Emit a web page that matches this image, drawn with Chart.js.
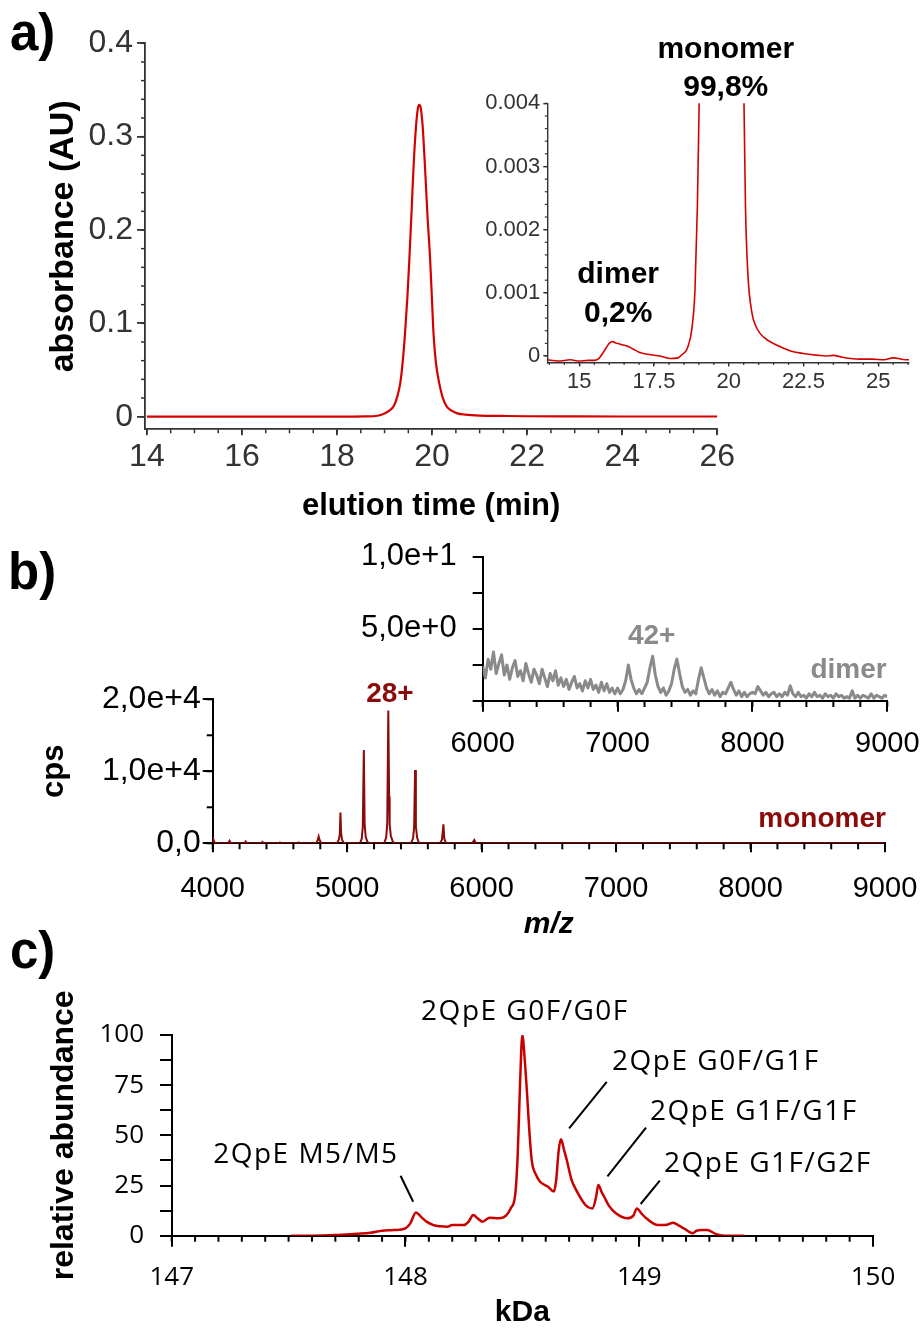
<!DOCTYPE html>
<html>
<head>
<meta charset="utf-8">
<script src="https://cdn.jsdelivr.net/npm/chart.js@4.4.1/dist/chart.umd.min.js"></script>
<style>
  body { margin: 0; background: #fff; width: 922px; height: 1329px; position: relative; overflow: hidden; font-family: "Liberation Sans", Arial, sans-serif; }
  canvas { position: absolute; }
  .panel { position: absolute; font-weight: bold; font-size: 51px; line-height: 1; color: #000; }
</style>
</head>
<body>
<div class="panel" style="left:10px;top:7px">a)</div>
<div class="panel" style="left:8px;top:546px">b)</div>
<div class="panel" style="left:10px;top:925px">c)</div>

<canvas id="chartA" width="760" height="510" style="left:0;top:20px"></canvas>
<canvas id="chartAInset" width="450" height="380" style="left:470px;top:20px"></canvas>
<canvas id="chartB" width="922" height="310" style="left:0;top:640px"></canvas>
<canvas id="chartBInset" width="572" height="230" style="left:350px;top:540px"></canvas>
<canvas id="chartC" width="920" height="380" style="left:0;top:960px"></canvas>

<script>
// a) SEC chromatogram, full view
const aTime = [14, 15, 16, 17, 18, 18.6, 18.85, 19.0, 19.1, 19.2, 19.27, 19.33, 19.38, 19.43, 19.48, 19.52, 19.57, 19.61, 19.66, 19.7, 19.73, 19.76, 19.8, 19.85, 19.9, 19.96, 20.0, 20.03, 20.08, 20.15, 20.22, 20.31, 20.42, 20.53, 20.7, 21.0, 21.5, 22, 23, 24, 25, 26];
const aAbs = [0, 0, 0, 0, 0, 0.0003, 0.001, 0.0035, 0.0065, 0.012, 0.022, 0.036, 0.058, 0.089, 0.128, 0.167, 0.222, 0.268, 0.310, 0.330, 0.334, 0.331, 0.312, 0.268, 0.218, 0.167, 0.122, 0.089, 0.058, 0.036, 0.021, 0.0107, 0.0062, 0.0036, 0.0022, 0.0012, 0.0008, 0.0005, 0.0003, 0.0002, 0.0002, 0.0002];
const aXTicks = [14, 16, 18, 20, 22, 24, 26];
const aXLabels = ['14', '16', '18', '20', '22', '24', '26'];
const aYTicks = [0, 0.1, 0.2, 0.3, 0.4];
const aYLabels = ['0', '0.1', '0.2', '0.3', '0.4'];

// a) inset, zoomed baseline
const aInsetTime = [13.93, 14.3, 14.7, 15.0, 15.3, 15.5, 15.65, 15.78, 15.9, 16.0, 16.12, 16.2, 16.35, 16.5, 16.6, 16.8, 17.0, 17.15, 17.4, 17.7, 17.85, 18.03, 18.3, 18.48, 18.58, 18.65, 18.76, 18.87, 18.95, 19.01, 19.1, 19.3, 19.73, 20.2, 20.45, 20.51, 20.56, 20.64, 20.78, 20.9, 21.06, 21.3, 21.62, 21.9, 22.13, 22.5, 23.0, 23.24, 23.5, 23.8, 24.36, 24.8, 25.2, 25.5, 25.92, 26.03];
const aInsetAbs = [-0.00006, -0.00008, -0.00006, -0.00008, -0.00007, -0.00007, -0.00004, 0.00004, 0.00013, 0.0002, 0.000227, 0.00021, 0.00019, 0.00017, 0.00016, 0.00011, 0.00006, 0.00004, 0.00002, 0.0, -0.00002, -0.00004, -0.00003, 0.00004, 0.00009, 0.00017, 0.00041, 0.00104, 0.00236, 0.004, 0.0065, 0.036, 0.334, 0.021, 0.0055, 0.004, 0.00236, 0.0013, 0.00067, 0.00048, 0.00035, 0.00025, 0.00017, 0.00011, 0.00007, 0.00004, 0.00001, 0.0, 0.00001, -0.00002, -0.00005, -0.00005, -0.00006, -0.00003, -0.00006, -0.00006];
const aInsetXTicks = [15, 17.5, 20, 22.5, 25];
const aInsetXLabels = ['15', '17.5', '20', '22.5', '25'];
const aInsetYTicks = [0, 0.001, 0.002, 0.003, 0.004];
const aInsetYLabels = ['0', '0.001', '0.002', '0.003', '0.004'];

// b) native MS, monomer and dimer
const bMonoMz = [4000, 4005, 4015, 4030, 4115, 4125, 4135, 4235, 4245, 4255, 4360, 4370, 4380, 4490, 4500, 4510, 4630, 4640, 4650, 4770, 4782, 4788, 4795, 4808, 4925, 4938, 4945, 4950, 4955, 4962, 4975, 5095, 5108, 5116, 5124, 5130, 5138, 5150, 5165, 5275, 5290, 5298, 5306, 5312, 5316, 5325, 5340, 5355, 5475, 5490, 5498, 5505, 5511, 5520, 5535, 5690, 5705, 5716, 5722, 5735, 5930, 5945, 5958, 9000];
const bMonoCps = [0, 550, 100, 0, 0, 350, 0, 0, 250, 0, 0, 180, 0, 0, 120, 0, 0, 120, 0, 0, 500, 950, 450, 0, 0, 500, 1200, 4260, 1400, 500, 0, 0, 600, 2200, 12960, 2600, 900, 200, 0, 0, 800, 2700, 18430, 6500, 2600, 1000, 200, 0, 0, 700, 2200, 10190, 2400, 800, 0, 0, 500, 2640, 700, 0, 0, 460, 0, 0];
const bDimerMz = [
    6000, 6020, 6040, 6060, 6080, 6100, 6120, 6140, 6160, 6180,
    6200, 6220, 6240, 6260, 6280, 6300, 6320, 6340, 6360, 6380,
    6400, 6420, 6440, 6460, 6480, 6500, 6520, 6540, 6560, 6580,
    6600, 6620, 6640, 6660, 6680, 6700, 6720, 6740, 6760, 6780,
    6800, 6820, 6840, 6860, 6880, 6900, 6920, 6940, 6960, 6980,
    7000, 7020, 7040, 7060, 7080, 7100, 7120, 7140, 7160, 7180,
    7200, 7220, 7240, 7260, 7280, 7300, 7320, 7340, 7360, 7380,
    7400, 7420, 7440, 7460, 7480, 7500, 7520, 7540, 7560, 7580,
    7600, 7620, 7640, 7660, 7680, 7700, 7720, 7740, 7760, 7780,
    7800, 7820, 7840, 7860, 7880, 7900, 7920, 7940, 7960, 7980,
    8000, 8020, 8040, 8060, 8080, 8100, 8120, 8140, 8160, 8180,
    8200, 8220, 8240, 8260, 8280, 8300, 8320, 8340, 8360, 8380,
    8400, 8420, 8440, 8460, 8480, 8500, 8520, 8540, 8560, 8580,
    8600, 8620, 8640, 8660, 8680, 8700, 8720, 8740, 8760, 8780,
    8800, 8820, 8840, 8860, 8880, 8900, 8920, 8940, 8960, 8980,
    9000];
const bDimerCps = [
    2.4, 1.6, 2.9, 2.2, 3.4, 1.9, 2.6, 3.2, 1.8, 2.5,
    1.5, 2.3, 2.8, 1.7, 2.1, 1.4, 2.6, 1.9, 1.3, 2.2,
    1.8, 1.2, 2.2, 1.6, 1.0, 1.9, 1.4, 2.1, 1.1, 1.6,
    1.0, 1.5, 0.8, 1.3, 1.7, 0.9, 1.2, 0.7, 1.4, 0.9,
    1.5, 0.8, 1.1, 0.6, 1.3, 0.7, 1.2, 0.6, 0.9, 0.5,
    0.9, 0.5, 0.8, 1.4, 2.5, 1.5, 0.9, 0.5, 0.8, 0.5,
    0.9, 1.3, 2.3, 3.1, 1.8, 1.0, 0.6, 0.9, 0.4, 0.7,
    1.2, 2.2, 2.9, 1.9, 1.0, 0.6, 0.8, 0.4, 0.7, 0.5,
    1.5, 2.3, 1.6, 0.9, 0.5, 0.8, 0.4, 0.7, 0.3, 0.6,
    0.5, 0.9, 1.3, 0.8, 0.4, 0.7, 0.3, 0.6, 0.3, 0.5,
    0.6, 0.5, 1.0, 0.7, 0.4, 0.6, 0.3, 0.5, 0.6, 0.3,
    0.5, 0.3, 0.6, 0.4, 1.05, 0.5, 0.3, 0.6, 0.3, 0.4,
    0.2, 0.5, 0.3, 0.6, 0.3, 0.4, 0.2, 0.5, 0.3, 0.4,
    0.2, 0.5, 0.3, 0.4, 0.2, 0.3, 0.2, 0.7, 0.2, 0.4,
    0.2, 0.4, 0.3, 0.2, 0.5, 0.2, 0.4, 0.3, 0.2, 0.4,
    0.3];
const bXTicks = [4000, 5000, 6000, 7000, 8000, 9000];
const bXLabels = ['4000', '5000', '6000', '7000', '8000', '9000'];
const bYTicks = [0, 10000, 20000];
const bYLabels = ['0,0', '1,0e+4', '2,0e+4'];
const bInsetXTicks = [6000, 7000, 8000, 9000];
const bInsetXLabels = ['6000', '7000', '8000', '9000'];
const bInsetYTicks = [0, 2.5, 5, 7.5, 10];
const bInsetYLabels = ['', '', '5,0e+0', '', '1,0e+1'];

// c) deconvoluted mass spectrum
const cMass = [147.51, 147.6, 147.7, 147.79, 147.85, 147.9, 147.95, 148.0, 148.02, 148.045, 148.07, 148.09, 148.12, 148.15, 148.18, 148.2, 148.25, 148.27, 148.29, 148.31, 148.33, 148.36, 148.4, 148.43, 148.45, 148.47, 148.48, 148.49, 148.5, 148.51, 148.52, 148.53, 148.54, 148.56, 148.575, 148.61, 148.635, 148.645, 148.655, 148.665, 148.68, 148.69, 148.71, 148.73, 148.77, 148.8, 148.815, 148.825, 148.84, 148.85, 148.87, 148.9, 148.95, 148.975, 148.99, 149.01, 149.03, 149.08, 149.12, 149.145, 149.17, 149.19, 149.23, 149.245, 149.27, 149.29, 149.33, 149.37, 149.45];
const cAbund = [0, 0, 0.3, 1, 1.5, 2.5, 2.8, 3.7, 6, 11.6, 9, 7, 5.3, 4.7, 4.5, 5.3, 5.3, 7, 10.3, 8.5, 7, 9, 8.7, 10, 13.6, 21, 40, 75, 100, 88, 71, 52, 37.7, 30, 27, 24.4, 22, 28, 42, 48, 42, 37.7, 28, 22.8, 15.3, 13.6, 19, 25.3, 21.5, 19.4, 15, 11.2, 8.7, 10, 13.6, 11, 8.7, 5.3, 5.5, 6.5, 5, 3.7, 1.2, 2.5, 2.8, 2.8, 0.8, 0, 0];
const cXTicks = [147, 148, 149, 150];
const cXLabels = ['147', '148', '149', '150'];
const cYTicks = [0, 12.5, 25, 37.5, 50, 62.5, 75, 87.5, 100];
const cYLabels = ['0', '', '25', '', '50', '', '75', '', '100'];

const ARIAL = '"Liberation Sans", Arial, sans-serif';
const OPEN = '"Open Sans", "Noto Sans", sans-serif';

function points(xs, ys) {
    return xs.map((x, i) => ({ x: x, y: ys[i] }));
}

// axis builder: fixed box size so the plot area lands where the figure has it
function axis(o) {
    const horizontal = o.position === 'bottom';
    return {
        type: 'linear',
        position: o.position,
        min: o.min,
        max: o.max,
        afterBuildTicks: function(s) { s.ticks = o.ticks.map(v => ({ value: v })); },
        afterFit: function(s) {
            if (horizontal) s.height = o.size; else s.width = o.size;
            s.paddingTop = 0; s.paddingBottom = 0; s.paddingLeft = 0; s.paddingRight = 0;
        },
        border: { display: true, color: o.color, width: o.lineWidth },
        grid: { drawOnChartArea: false, drawTicks: true, tickLength: o.tickLength, color: o.color, lineWidth: o.lineWidth },
        ticks: {
            autoSkip: false, maxRotation: 0, padding: o.pad, color: o.labelColor,
            font: o.font,
            callback: function(v, i) { return o.labels[i]; }
        },
        title: o.title ? {
            display: true, text: o.title, color: '#000', font: o.titleFont,
            padding: o.titlePad
        } : { display: false }
    };
}

// short ticks between the labelled ones
function minorTicks(specs, color, width) {
    return {
        id: 'minorTicks',
        afterDraw(chart) {
            const ctx = chart.ctx;
            ctx.save();
            ctx.strokeStyle = color;
            ctx.lineWidth = width;
            specs.forEach(s => {
                const scale = chart.scales[s.axis];
                const n = Math.round((s.to - s.from) / s.step);
                for (let i = 0; i <= n; i++) {
                    const p = scale.getPixelForValue(s.from + i * s.step);
                    ctx.beginPath();
                    if (s.axis === 'x') {
                        ctx.moveTo(p, scale.top);
                        ctx.lineTo(p, scale.top + s.len);
                    } else {
                        ctx.moveTo(scale.right, p);
                        ctx.lineTo(scale.right - s.len, p);
                    }
                    ctx.stroke();
                }
            });
            ctx.restore();
        }
    };
}

// text labels and leader lines placed in data units
function notes(items, lines) {
    return {
        id: 'notes',
        afterDraw(chart) {
            const ctx = chart.ctx;
            const xs = chart.scales.x, ys = chart.scales.y;
            ctx.save();
            (lines || []).forEach(l => {
                ctx.strokeStyle = l.color;
                ctx.lineWidth = l.width;
                ctx.beginPath();
                ctx.moveTo(xs.getPixelForValue(l.x1), ys.getPixelForValue(l.y1));
                ctx.lineTo(xs.getPixelForValue(l.x2), ys.getPixelForValue(l.y2));
                ctx.stroke();
            });
            items.forEach(n => {
                ctx.font = n.font;
                ctx.fillStyle = n.color;
                ctx.textAlign = n.align || 'center';
                ctx.textBaseline = 'alphabetic';
                ctx.letterSpacing = n.spacing || '0px';
                ctx.fillText(n.text, xs.getPixelForValue(n.x), ys.getPixelForValue(n.y));
            });
            ctx.restore();
        }
    };
}

function lineChart(id, datasets, scales, padding, plugins) {
    return new Chart(document.getElementById(id), {
        type: 'line',
        data: { datasets: datasets },
        options: {
            responsive: false,
            animation: false,
            devicePixelRatio: 1,
            layout: { padding: padding },
            elements: { point: { radius: 0 } },
            plugins: { legend: { display: false }, tooltip: { enabled: false } },
            scales: scales
        },
        plugins: plugins
    });
}

// ---- a) main
lineChart('chartA', [{
    data: points(aTime, aAbs), borderColor: '#D40000', borderWidth: 2.2,
    cubicInterpolationMode: 'monotone', fill: false
}], {
    x: axis({ position: 'bottom', min: 13.96, max: 26, ticks: aXTicks, labels: aXLabels, size: 100.7,
        color: '#333', lineWidth: 1.8, tickLength: 6, pad: 2.5, labelColor: '#333',
        font: { family: ARIAL, size: 32 },
        title: 'elution time (min)', titleFont: { family: ARIAL, size: 31, weight: 'bold' }, titlePad: { top: 0, bottom: 5.4 } }),
    y: axis({ position: 'left', min: -0.0135, max: 0.4, ticks: aYTicks, labels: aYLabels, size: 145,
        color: '#333', lineWidth: 1.8, tickLength: 8, pad: 4, labelColor: '#333',
        font: { family: ARIAL, size: 32 },
        title: 'absorbance (AU)', titleFont: { family: ARIAL, size: 34, weight: 'bold' }, titlePad: { top: 43, bottom: 0 } })
}, { top: 23.3, right: 42.7, left: 0, bottom: 0 }, [
    minorTicks([{ axis: 'x', from: 14, to: 26, step: 0.5, len: 4 }, { axis: 'y', from: 0, to: 0.4, step: 0.02, len: 4 }], '#333', 1.5)
]);

// ---- a) inset
lineChart('chartAInset', [{
    data: points(aInsetTime, aInsetAbs), borderColor: '#D40000', borderWidth: 1.6,
    cubicInterpolationMode: 'monotone', fill: false
}], {
    x: axis({ position: 'bottom', min: 13.93, max: 26.03, ticks: aInsetXTicks, labels: aInsetXLabels, size: 37.5,
        color: '#333', lineWidth: 1.4, tickLength: 4, pad: 2.3, labelColor: '#333',
        font: { family: ARIAL, size: 22 } }),
    y: axis({ position: 'left', min: -0.000103, max: 0.004, ticks: aInsetYTicks, labels: aInsetYLabels, size: 77.3,
        color: '#333', lineWidth: 1.4, tickLength: 4, pad: 3, labelColor: '#333',
        font: { family: ARIAL, size: 22 } })
}, { top: 83.3, right: 11, left: 0, bottom: 0 }, [
    minorTicks([{ axis: 'x', from: 14, to: 26, step: 0.5, len: 2.5 }, { axis: 'y', from: 0, to: 0.004, step: 0.0002, len: 2.5 }], '#333', 1.2),
    notes([
        { text: 'monomer', x: 19.90, y: 0.004715, font: 'bold 30px ' + ARIAL, color: '#000' },
        { text: '99,8%', x: 19.90, y: 0.004114, font: 'bold 30px ' + ARIAL, color: '#000' },
        { text: 'dimer', x: 16.30, y: 0.00115, font: 'bold 30px ' + ARIAL, color: '#000' },
        { text: '0,2%', x: 16.30, y: 0.000543, font: 'bold 30px ' + ARIAL, color: '#000' }
    ])
]);

// ---- b) main (monomer)
lineChart('chartB', [{
    data: points(bMonoMz, bMonoCps), borderColor: '#8B0A0A', borderWidth: 2, tension: 0, fill: false
}], {
    x: axis({ position: 'bottom', min: 4000, max: 9000, ticks: bXTicks, labels: bXLabels, size: 106.7,
        color: '#000', lineWidth: 2, tickLength: 9, pad: 19, labelColor: '#000',
        font: { family: ARIAL, size: 29 },
        title: 'm/z', titleFont: { family: ARIAL, size: 30, weight: 'bold', style: 'italic' }, titlePad: { top: 0, bottom: 7.4 } }),
    y: axis({ position: 'left', min: 0, max: 20000, ticks: bYTicks, labels: bYLabels, size: 212.7,
        color: '#000', lineWidth: 2, tickLength: 10, pad: 2, labelColor: '#000',
        font: { family: ARIAL, size: 32 },
        title: 'cps', titleFont: { family: ARIAL, size: 31, weight: 'bold' }, titlePad: { top: 36, bottom: 0 } })
}, { top: 59.3, right: 37, left: 0, bottom: 0 }, [
    minorTicks([{ axis: 'x', from: 4000, to: 9000, step: 200, len: 6 }, { axis: 'y', from: 0, to: 20000, step: 5000, len: 6 }], '#000', 2),
    notes([
        { text: '28+', x: 5318, y: 19667, font: 'bold 28px ' + ARIAL, color: '#8B0A0A' },
        { text: 'monomer', x: 9007, y: 2264, font: 'bold 28px ' + ARIAL, color: '#8B0A0A', align: 'right' }
    ])
]);

// ---- b) inset (dimer)
lineChart('chartBInset', [{
    data: points(bDimerMz, bDimerCps), borderColor: '#8A8A8A', borderWidth: 3, tension: 0, fill: false,
    borderJoinStyle: 'round'
}], {
    x: axis({ position: 'bottom', min: 6000, max: 9000, ticks: bInsetXTicks, labels: bInsetXLabels, size: 69,
        color: '#000', lineWidth: 2, tickLength: 10.7, pad: 14.5, labelColor: '#000',
        font: { family: ARIAL, size: 29 } }),
    y: axis({ position: 'left', min: 0, max: 10, ticks: bInsetYTicks, labels: bInsetYLabels, size: 132.7,
        color: '#000', lineWidth: 2, tickLength: 10, pad: 16, labelColor: '#000',
        font: { family: ARIAL, size: 31 } })
}, { top: 16.7, right: 34.7, left: 0, bottom: 0 }, [
    minorTicks([{ axis: 'x', from: 6000, to: 9000, step: 200, len: 6 }], '#000', 2),
    notes([
        { text: '42+', x: 7253, y: 3.95, font: 'bold 28px ' + ARIAL, color: '#8A8A8A' },
        { text: 'dimer', x: 8995, y: 1.57, font: 'bold 28px ' + ARIAL, color: '#8A8A8A', align: 'right' }
    ])
]);

// ---- c)
const cFont = '28px ' + OPEN;
lineChart('chartC', [{
    data: points(cMass, cAbund), borderColor: '#C80000', borderWidth: 2.5,
    cubicInterpolationMode: 'monotone', fill: false
}], {
    x: axis({ position: 'bottom', min: 147, max: 150, ticks: cXTicks, labels: cXLabels, size: 104.3,
        color: '#000', lineWidth: 2, tickLength: 11, pad: 15, labelColor: '#000',
        font: { family: OPEN, size: 26 },
        title: 'kDa', titleFont: { family: ARIAL, size: 30, weight: 'bold' }, titlePad: { top: 0, bottom: 9 } }),
    y: axis({ position: 'left', min: 0, max: 100, ticks: cYTicks, labels: cYLabels, size: 171.7,
        color: '#000', lineWidth: 2, tickLength: 11.7, pad: 16, labelColor: '#000',
        font: { family: OPEN, size: 26 },
        title: 'relative abundance', titleFont: { family: ARIAL, size: 32, weight: 'bold' }, titlePad: { top: 45, bottom: 0 } })
}, { top: 75, right: 47, left: 0, bottom: 0 }, [
    minorTicks([{ axis: 'x', from: 147, to: 150, step: 0.1, len: 6 }], '#000', 2),
    notes([
        { text: '2QpE G0F/G0F', x: 148.511, y: 107.5, font: cFont, color: '#000', spacing: '1.5px' },
        { text: '2QpE G0F/G1F', x: 149.328, y: 82.6, font: cFont, color: '#000', spacing: '1.5px' },
        { text: '2QpE G1F/G1F', x: 149.49, y: 57.6, font: cFont, color: '#000', spacing: '1.5px' },
        { text: '2QpE G1F/G2F', x: 149.55, y: 31.9, font: cFont, color: '#000', spacing: '1.5px' },
        { text: '2QpE M5/M5', x: 147.574, y: 36.2, font: cFont, color: '#000', spacing: '1.5px' }
    ], [
        { x1: 147.979, y1: 29.9, x2: 148.033, y2: 16.9, color: '#000', width: 2 },
        { x1: 148.861, y1: 76.7, x2: 148.70, y2: 53.5, color: '#000', width: 2 },
        { x1: 149.029, y1: 53.9, x2: 148.864, y2: 29.5, color: '#000', width: 2 },
        { x1: 149.088, y1: 27.4, x2: 149.006, y2: 15.8, color: '#000', width: 2 }
    ])
]);
</script>
</body>
</html>
